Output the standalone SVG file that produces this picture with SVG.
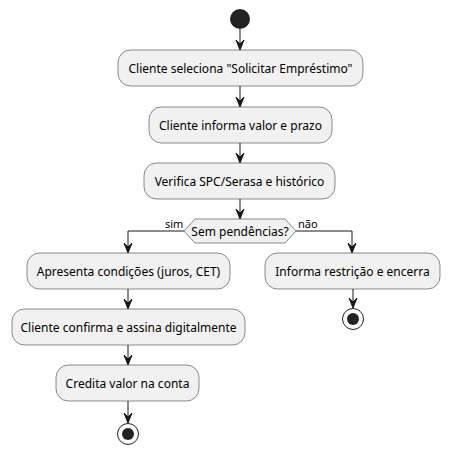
<svg xmlns="http://www.w3.org/2000/svg" width="450" height="454" viewBox="0 0 450 454">
<style>
.box{fill:#F1F1F1;stroke:#181818;stroke-width:0.5}
.t{font-family:"Noto Sans","DejaVu Sans",sans-serif;font-size:12px;fill:#000000}
.c{text-anchor:middle}
.ln{stroke:#181818;stroke-width:1;fill:none}
.ah{fill:#181818;stroke:#181818;stroke-width:1}
</style>
<defs>
<polygon id="arr" class="ah" points="-4,-10 0,0 4,-10 0,-6"/>
</defs>
<g id="start"><circle cx="240" cy="19" r="10" fill="#222222"/></g>
<g id="n1"><rect class="box" x="118" y="50" width="245" height="36" rx="12.5"/><text class="t c" x="240.5" y="73">Cliente seleciona "Solicitar Empréstimo"</text></g>
<g id="n2"><rect class="box" x="149" y="107" width="183" height="36" rx="12.5"/><text class="t c" x="240.5" y="130">Cliente informa valor e prazo</text></g>
<g id="n3"><rect class="box" x="144" y="163" width="191" height="36" rx="12.5"/><text class="t c" x="239.5" y="186">Verifica SPC/Serasa e histórico</text></g>
<g id="d1"><polygon class="box" points="184,231 195,219 285,219 296,231 285,243 195,243"/><text class="t c" x="240" y="235.5">Sem pendências?</text></g>
<g id="n4"><rect class="box" x="27" y="253" width="203" height="36" rx="12.5"/><text class="t c" x="128.5" y="276">Apresenta condições (juros, CET)</text></g>
<g id="n5"><rect class="box" x="265" y="253" width="175" height="36" rx="12.5"/><text class="t c" x="352.5" y="276">Informa restrição e encerra</text></g>
<g id="n6"><rect class="box" x="12" y="309" width="233" height="36" rx="12.5"/><text class="t c" x="128.5" y="332">Cliente confirma e assina digitalmente</text></g>
<g id="n7"><rect class="box" x="56" y="365" width="143" height="36" rx="12.5"/><text class="t c" x="127.5" y="388">Credita valor na conta</text></g>
<g id="end1"><circle cx="128" cy="434" r="10.5" fill="none" stroke="#222222" stroke-width="1"/><circle cx="128" cy="434" r="6" fill="#222222"/></g>
<g id="end2"><circle cx="353" cy="319" r="10.5" fill="none" stroke="#222222" stroke-width="1"/><circle cx="353" cy="319" r="6" fill="#222222"/></g>
<g id="connectors">
<line class="ln" x1="240" y1="29" x2="240" y2="49"/><use href="#arr" x="240" y="50"/>
<line class="ln" x1="240" y1="86" x2="240" y2="106"/><use href="#arr" x="240" y="107"/>
<line class="ln" x1="240" y1="143" x2="240" y2="162"/><use href="#arr" x="240" y="163"/>
<line class="ln" x1="240" y1="199" x2="240" y2="218"/><use href="#arr" x="240" y="219"/>
<polyline class="ln" points="184,231 128,231 128,252"/><use href="#arr" x="128" y="253"/>
<polyline class="ln" points="296,231 352,231 352,252"/><use href="#arr" x="352" y="253"/>
<line class="ln" x1="128" y1="289" x2="128" y2="308"/><use href="#arr" x="128" y="309"/>
<line class="ln" x1="128" y1="345" x2="128" y2="364"/><use href="#arr" x="128" y="365"/>
<line class="ln" x1="128" y1="401" x2="128" y2="422"/><use href="#arr" x="128" y="423"/>
<line class="ln" x1="353" y1="289" x2="353" y2="307"/><use href="#arr" x="353" y="308"/>
<text class="t" x="165" y="228" style="font-size:11px">sim</text>
<text class="t" x="298" y="228" style="font-size:11px">não</text>
</g>
</svg>
